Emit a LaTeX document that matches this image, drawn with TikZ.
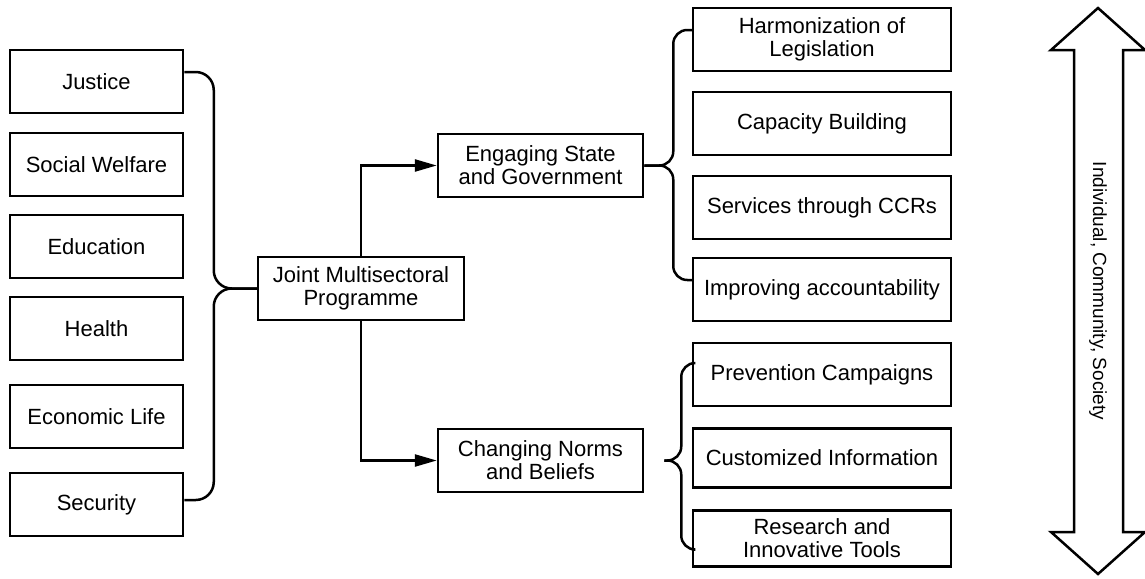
\documentclass[tikz,border=0pt]{standalone}
\usepackage{fontspec}
\setmainfont{Liberation Sans}
\usepackage{tikz}
\usetikzlibrary{arrows.meta, calc}

\begin{document}
\begin{tikzpicture}[x=0.5pt, y=-0.5pt,
  every node/.style={font=\fontsize{11}{11.5}\selectfont, align=center, line width=1.25pt},
  sector/.style={draw, minimum width=86.5pt, minimum height=31.5pt},
  stream/.style={draw, minimum width=102.5pt, minimum height=31.5pt},
  action/.style={draw, minimum width=129pt, minimum height=31.5pt},
  brace/.style={line width=1.25pt, rounded corners=7pt},
  link/.style={line width=1.25pt, -{Triangle[length=11pt, width=6pt]}}]

   \useasboundingbox (0,0) rectangle (1145,578);

   \node (justice) [sector] at ( 96.5,  81.5) {Justice};
   \node (welfare) [sector] at ( 96.5, 164.5) {Social Welfare};
   \node (educ)    [sector] at ( 96.5, 246.5) {Education};
   \node (health)  [sector] at ( 96.5, 328.5) {Health};
   \node (econ)    [sector] at ( 96.5, 416.5) {Economic Life};
   \node (secur)   [sector] at ( 96.5, 504.5) {Security};

   \node (joint) [draw, minimum width=103pt, minimum height=31.5pt] at (361, 288.5) {Joint Multisectoral\\Programme};

   \node (state) [stream] at (540.5, 165.5) {Engaging State\\and Government};
   \node (norms) [stream] at (540.5, 460.5) {Changing Norms\\and Beliefs};

   \node (harmon)  [action] at (822,  39.5) {Harmonization of\\Legislation};
   \node (capac)   [action] at (822, 123.5) {Capacity Building};
   \node (serv)    [action] at (822, 207.5) {Services through CCRs};
   \node (account) [action] at (822, 289.5) {Improving accountability};
   \node (prevent) [action] at (822, 374.5) {Prevention Campaigns};
   \node (custom)  [action, minimum height=29.5pt] at (822, 458) {Customized Information};
   \node (research)[action, minimum height=28pt] at (822, 538.5) {Research and\\Innovative Tools};

   \draw[brace, rounded corners=9pt] ([yshift=4.75pt]justice.east) -| ([xshift=-21.5pt]joint.west) -- (joint.west);
   \draw[brace, rounded corners=9pt] (joint.west) -- ([xshift=-21.5pt]joint.west) |- ([yshift=2.25pt]secur.east);

   \draw[link] (joint.north) |- (state.west);
   \draw[link] (joint.south) |- (norms.west);

   \draw[brace] ([yshift=4.75pt]harmon.west) -| ([xshift=14.5pt]state.east) -- (state.east);
   \draw[brace] (state.east) -- ([xshift=14.5pt]state.east) |- ([yshift=4.75pt]account.west);

   \coordinate (tip) at ([xshift=10pt]norms.east);
   \draw[brace] ([yshift=5.75pt]prevent.west) -| ([xshift=8.5pt]tip) -- (tip);
   \draw[brace] (tip) -- ([xshift=8.5pt]tip) |- ([yshift=-5.5pt]research.west);

   \draw[line width=1.25pt, line join=miter] (1098,8) -- (1145,50) -- (1123,50) -- (1123,532) -- (1145,532) -- (1098,574)
      -- (1051,532) -- (1074,532) -- (1074,50) -- (1051,50) -- cycle;
   \node (levels) [rotate=-90, font=\fontsize{9.5}{11}\selectfont] at (1098, 291) {Individual, Community, Society};

\end{tikzpicture}
\end{document}
